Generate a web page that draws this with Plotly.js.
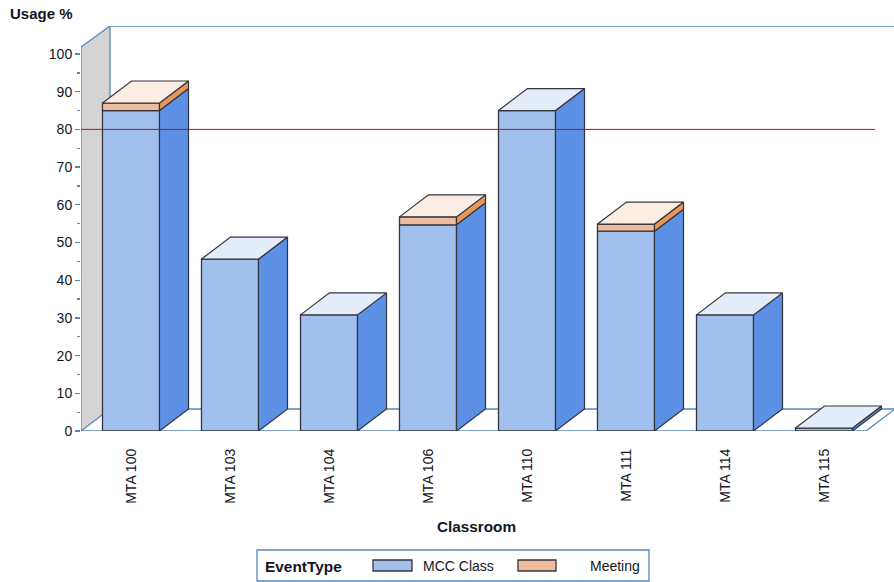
<!DOCTYPE html>
<html><head><meta charset="utf-8">
<script src="https://cdn.plot.ly/plotly-3.0.0.min.js"></script>
<style>html,body{margin:0;padding:0;background:#fff}#c{width:894px;height:582px}</style></head>
<body><div id="c"></div>
<script>
const rooms = ['MTA 100','MTA 103','MTA 104','MTA 106','MTA 110','MTA 111','MTA 114','MTA 115'];
const mccClass = [85,45.6,30.8,54.7,85,53,30.8,0.8];
const meeting = [2,0,0,2.1,0,1.9,0,0];
const referenceLevel = 80;
const yTicks = [0,10,20,30,40,50,60,70,80,90,100];
const yMinorTicks = [5,15,25,35,45,55,65,75,85,95];

const W=894,H=582,L=81,T=26,B=431,R=894;
const pxX=99, pxY=3.77;
const x0=-50/pxX, x1=x0+(R-L)/pxX, y1=(B-T)/pxY;
const dx=29/pxX, dy=22/pxY, hw=0.288;
const floorEnd=(866-131)/pxX, yTop=(B-47)/pxY;
const px=p=>(p-L)/(R-L), py=p=>(B-p)/(B-T);
const axisBlue='#5488bd', edge='#34343c';
const font='"Liberation Sans", Arial, sans-serif', ink='#14141f';

const rows=rooms.map((_,i)=>i);
function side(bot,top){const x=[],y=[];rows.forEach(i=>{if(top[i]-bot[i]<=0)return;
  const r=i+hw;x.push(r,r+dx,r+dx,r,r,null);y.push(bot[i],bot[i]+dy,top[i]+dy,top[i],bot[i],null);});return{x,y};}
function lid(top,mask){const x=[],y=[];rows.forEach(i=>{if(!mask(i))return;
  x.push(i-hw,i-hw+dx,i+hw+dx,i+hw,i-hw,null);y.push(top[i],top[i]+dy,top[i]+dy,top[i],top[i],null);});return{x,y};}
const total=mccClass.map((v,i)=>v+meeting[i]);
const zero=rooms.map(()=>0);
const poly=(g,fill)=>({type:'scatter',mode:'lines',x:g.x,y:g.y,fill:'toself',fillcolor:fill,
  line:{color:edge,width:1.2},hoverinfo:'skip',showlegend:false});
const bar=(name,y,base,color)=>({type:'bar',name,x:rows,y,base,width:hw*2,
  marker:{color,line:{color:edge,width:1.3}},showlegend:false});
const keep=(a)=>a.map(v=>v>0?v:null);

const traces=[
  bar('MCC Class',mccClass,zero,'#a1c0ee'),
  bar('Meeting',keep(meeting),mccClass,'#f0bc9b'),
  poly(side(zero,mccClass),'#5b90e5'),
  poly(side(mccClass,total),'#e8975c'),
  poly(lid(mccClass,i=>meeting[i]===0),'#e3edfa'),
  poly(lid(total,i=>meeting[i]>0),'#faeee4'),
  {type:'scatter',mode:'lines',x:[x0,(875-131)/pxX],y:[referenceLevel,referenceLevel],
   line:{color:'#e80000',width:1},hoverinfo:'skip',showlegend:false}
];

const ln=(a,b,c,d)=>({type:'line',xref:'x',yref:'y',x0:a,y0:b,x1:c,y1:d,line:{color:axisBlue,width:1.3},layer:'below'});
const shapes=[
  {type:'path',xref:'x',yref:'y',layer:'below',fillcolor:'#d4d4d4',line:{width:0},
   path:`M${x0},0L${x0+dx},${dy}L${x0+dx},${y1}L${x0},${yTop}Z`},
  ln(x0,0,x0,yTop), ln(x0,yTop,x0+dx,y1), ln(x0+dx,y1,x1,y1), ln(x0+dx,dy,x0+dx,y1),
  ln(x0,0,x0+dx,dy), ln(x0+dx,dy,x1,dy), ln(x0,0,floorEnd,0), ln(floorEnd,0,floorEnd+dx,dy),
  {type:'rect',xref:'paper',yref:'paper',x0:px(257),x1:px(649),y0:py(581),y1:py(550),line:{color:axisBlue,width:1.3},fillcolor:'#fff'},
  {type:'rect',xref:'paper',yref:'paper',x0:px(373),x1:px(412),y0:py(571),y1:py(560),line:{color:edge,width:1.3},fillcolor:'#a1c0ee'},
  {type:'rect',xref:'paper',yref:'paper',x0:px(518),x1:px(556),y0:py(571),y1:py(560),line:{color:edge,width:1.3},fillcolor:'#f0bc9b'}
];
const note=(text,p,q,size,bold,anchor)=>({text:bold?`<b>${text}</b>`:text,xref:'paper',yref:'paper',x:px(p),y:py(q),
  xanchor:anchor||'left',yanchor:'middle',showarrow:false,font:{family:font,size,color:ink},borderpad:0,borderwidth:0});
const annotations=[
  note('Usage %',10,14,15,true),
  note('Classroom',476.5,526,15.3,true,'center'),
  note('EventType',265,566,15.4,true),
  note('MCC Class',423,566,14,false),
  note('Meeting',590,566,14,false)
];
Plotly.newPlot('c',traces,{
  width:W,height:H,autosize:false,
  margin:{l:L,r:W-R,t:T,b:H-B,pad:0},
  paper_bgcolor:'#fff',plot_bgcolor:'rgba(0,0,0,0)',
  barmode:'overlay',showlegend:false,shapes,annotations,
  xaxis:{type:'linear',range:[x0,x1],tickmode:'array',tickvals:rows,ticktext:rooms,tickangle:-90,
    showgrid:false,zeroline:false,showline:false,ticks:'',ticklabelstandoff:14,
    tickfont:{family:font,size:14,color:ink}},
  yaxis:{type:'linear',range:[0,y1],tickmode:'array',tickvals:yTicks,showgrid:false,zeroline:false,showline:false,
    ticks:'outside',ticklen:5,tickcolor:axisBlue,tickwidth:1.3,
    minor:{tickmode:'array',tickvals:yMinorTicks,ticks:'outside',ticklen:3,tickcolor:axisBlue,tickwidth:1.3,showgrid:false},
    tickfont:{family:font,size:14,color:ink},ticklabelstandoff:0}
},{displayModeBar:false,staticPlot:true});
</script></body></html>
